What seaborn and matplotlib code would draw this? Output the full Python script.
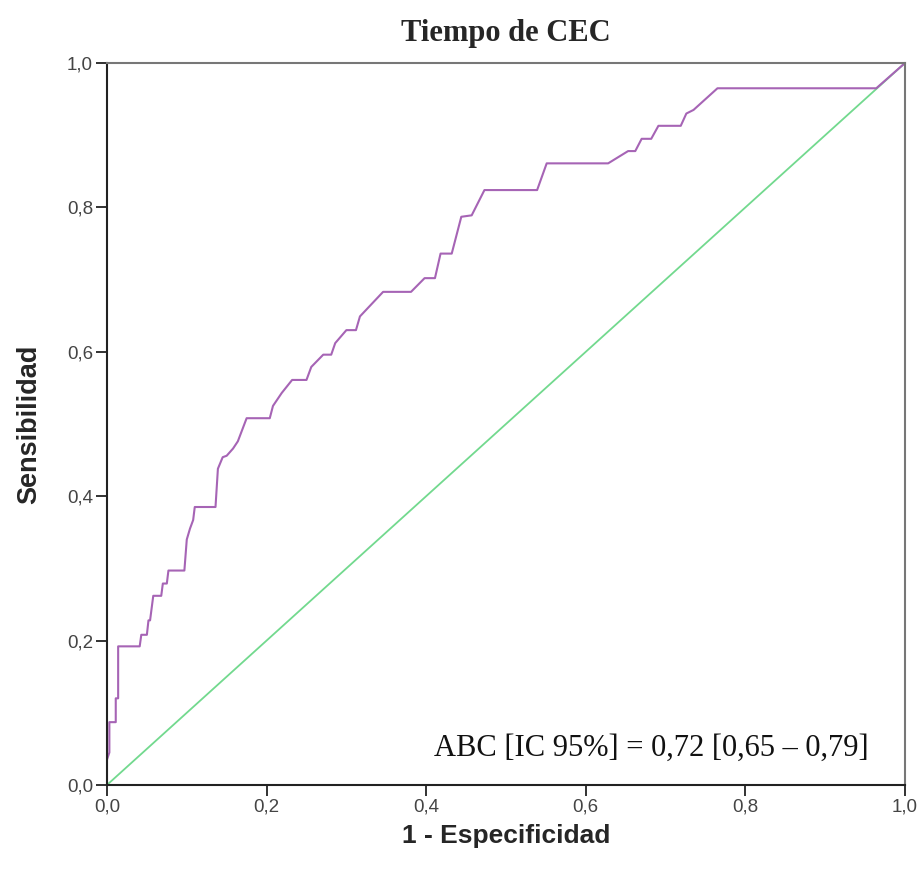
import matplotlib
matplotlib.use("Agg")
import matplotlib.pyplot as plt
import seaborn as sns
import pandas as pd

title = "Tiempo de CEC"
xlabel = "1 - Especificidad"
ylabel = "Sensibilidad"
annotation = "ABC [IC 95%] = 0,72 [0,65 – 0,79]"
tick_values = [0.0, 0.2, 0.4, 0.6, 0.8, 1.0]
tick_labels = ["0,0", "0,2", "0,4", "0,6", "0,8", "1,0"]

fpr = [0.000, 0.000, 0.003, 0.003, 0.011, 0.011, 0.014, 0.014, 0.041, 0.043,
       0.050, 0.052, 0.054, 0.058, 0.068, 0.070, 0.075, 0.077, 0.097, 0.100,
       0.104, 0.108, 0.110, 0.136, 0.139, 0.145, 0.150, 0.158, 0.164, 0.175,
       0.204, 0.208, 0.219, 0.232, 0.250, 0.256, 0.271, 0.281, 0.286, 0.300,
       0.312, 0.317, 0.346, 0.381, 0.398, 0.411, 0.418, 0.432, 0.444, 0.457,
       0.473, 0.539, 0.551, 0.628, 0.653, 0.662, 0.670, 0.682, 0.691, 0.719,
       0.726, 0.735, 0.765, 0.964, 1.000]
tpr = [0.000, 0.035, 0.045, 0.087, 0.087, 0.120, 0.120, 0.192, 0.192, 0.208,
       0.208, 0.228, 0.228, 0.262, 0.262, 0.279, 0.279, 0.297, 0.297, 0.340,
       0.355, 0.367, 0.385, 0.385, 0.438, 0.454, 0.456, 0.466, 0.476, 0.508,
       0.508, 0.525, 0.543, 0.561, 0.561, 0.579, 0.596, 0.596, 0.612, 0.630,
       0.630, 0.649, 0.683, 0.683, 0.702, 0.702, 0.736, 0.736, 0.787, 0.789,
       0.824, 0.824, 0.861, 0.861, 0.878, 0.878, 0.895, 0.895, 0.913, 0.913,
       0.930, 0.935, 0.965, 0.965, 1.000]
ref_x = [0.0, 1.0]
ref_y = [0.0, 1.0]

sns.set_style("white")

fig = plt.figure(figsize=(9.23, 8.75), dpi=100)
ax = fig.add_axes([0.1159, 0.1029, 0.8646, 0.8251])

roc = pd.DataFrame({"fpr": fpr, "tpr": tpr})
ref = pd.DataFrame({"x": ref_x, "y": ref_y})

sns.lineplot(data=ref, x="x", y="y", ax=ax, color="#72d98e", linewidth=1.3,
             sort=False, estimator=None)
sns.lineplot(data=roc, x="fpr", y="tpr", ax=ax, color="#a664b5", linewidth=1.5,
             sort=False, estimator=None)

ax.set_xlim(0, 1)
ax.set_ylim(0, 1)
ax.set_xticks(tick_values)
ax.set_xticklabels(tick_labels)
ax.set_yticks(tick_values)
ax.set_yticklabels(tick_labels)
ax.tick_params(axis="both", direction="out", length=8, width=1.3, color="#222222",
               labelsize=13.5, labelcolor="#444444", pad=2, bottom=True, left=True)
for lbl in ax.get_xticklabels() + ax.get_yticklabels():
    lbl.set_family("Liberation Sans")

for side in ["left", "bottom"]:
    ax.spines[side].set_color("#222222")
    ax.spines[side].set_linewidth(1.5)
for side in ["top", "right"]:
    ax.spines[side].set_color("#777777")
    ax.spines[side].set_linewidth(1.5)

ax.set_xlabel(xlabel, fontsize=19, fontweight="bold", family="Liberation Sans", labelpad=6)
ax.set_ylabel(ylabel, fontsize=19.5, fontweight="bold", family="Liberation Sans", labelpad=18)
ax.set_title(title, fontsize=22, fontweight="bold", family="Liberation Serif", pad=16)

ax.text(0.954, 0.051, annotation, ha="right", va="center", fontsize=22,
        family="Liberation Serif", color="#111111", transform=ax.transData)

fig.savefig("out.png", dpi=100, facecolor="white")
